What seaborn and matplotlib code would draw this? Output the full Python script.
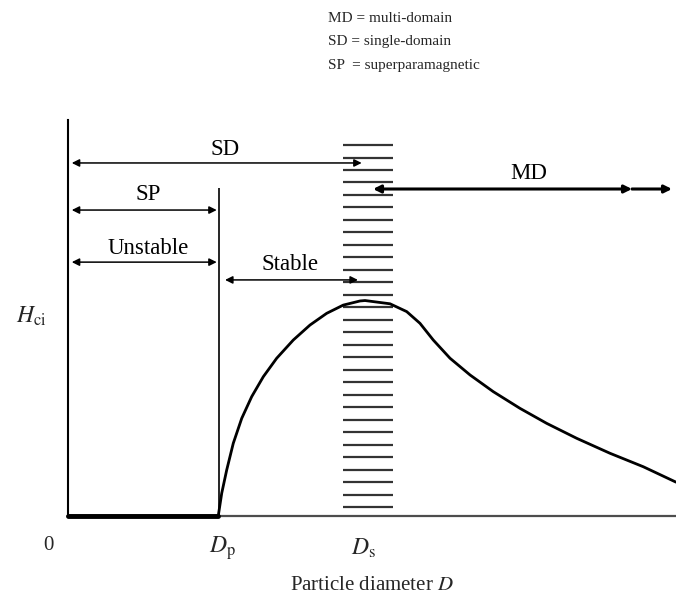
import numpy as np
import pandas as pd
import matplotlib
matplotlib.use("Agg")
import matplotlib.pyplot as plt
import seaborn as sns

# ---- data (schematic units: D in arbitrary units, Hci normalised to peak ~ 1) ----
curve_D = [0.0, 1.99, 2.036, 2.102, 2.189, 2.301, 2.433, 2.587, 2.764, 2.984, 3.205,
           3.426, 3.646, 3.868, 3.934, 4.0, 4.265, 4.486, 4.662, 4.838, 5.060, 5.325,
           5.633, 5.987, 6.340, 6.738, 7.179, 7.620, 8.053]
curve_H = [0.0, 0.0, 0.105, 0.212, 0.335, 0.450, 0.550, 0.642, 0.727, 0.811, 0.880,
           0.934, 0.972, 0.991, 0.993, 0.990, 0.978, 0.942, 0.888, 0.811, 0.727, 0.650,
           0.573, 0.496, 0.427, 0.358, 0.289, 0.227, 0.156]

D_p = 2.0
D_s = 4.0
band_x = [3.64, 4.30]
band_lines = [1.710, 1.652, 1.594, 1.537, 1.480, 1.422, 1.365, 1.307, 1.250, 1.192,
              1.135, 1.077, 1.019, 0.962, 0.905, 0.847, 0.789, 0.732, 0.675, 0.617,
              0.559, 0.502, 0.444, 0.387, 0.329, 0.272, 0.214, 0.157, 0.099, 0.042]

# ranges: label, x_start, x_end, y
ranges_label = ["SD", "SP", "Unstable", "Stable", "MD"]
ranges_start = [0.05, 0.05, 0.05, 2.08, 4.04]
ranges_end = [3.89, 1.97, 1.97, 3.84, 7.47]
ranges_y = [1.627, 1.41, 1.17, 1.088, 1.507]
label_x = [2.08, 1.06, 1.06, 2.94, 6.1]
label_y = [1.687, 1.48, 1.235, 1.157, 1.58]
md_extra_end = 8.0

legend_lines = ["MD = multi-domain", "SD = single-domain", "SP  = superparamagnetic"]

# ---- style ----
sns.set_theme(style="white")
plt.rcParams["font.family"] = ["Liberation Serif", "DejaVu Serif"]
plt.rcParams["mathtext.fontset"] = "stix"

fig = plt.figure(figsize=(6.76, 5.97), dpi=100)
ax = fig.add_axes([68 / 676, (597 - 516) / 597, (676 - 68) / 676, 396 / 597])
ax.set_xlim(0, 8.053)
ax.set_ylim(0, 1.825)

df = pd.DataFrame({"D": curve_D, "H": curve_H})
sns.lineplot(data=df, x="D", y="H", ax=ax, color="black", lw=2.0,
             sort=False, estimator=None, clip_on=False, zorder=5)
# thick flat segment (SP region)
sns.lineplot(data=df.iloc[:2], x="D", y="H", ax=ax, color="black", lw=3.5,
             sort=False, estimator=None, clip_on=False, zorder=6)

# hatched band at D_s
ax.hlines(band_lines, band_x[0], band_x[1], color="0.2", lw=1.6, zorder=2)

# D_p divider
ax.vlines(D_p, 0, 1.51, color="black", lw=1.2, zorder=3)

# range arrows
for lab, xs, xe, y, lx, ly in zip(ranges_label, ranges_start, ranges_end, ranges_y, label_x, label_y):
    lw = 2.2 if lab == "MD" else 1.1
    ax.annotate("", xy=(xe, y), xytext=(xs, y),
                arrowprops=dict(arrowstyle="<|-|>", mutation_scale=11, lw=lw,
                                color="black", shrinkA=0, shrinkB=0), zorder=4)
    ax.text(lx, ly, lab, ha="center", va="center", fontsize=16.5, color="black")
    if lab == "MD":
        ax.annotate("", xy=(md_extra_end, y), xytext=(xe, y),
                    arrowprops=dict(arrowstyle="-|>", mutation_scale=11, lw=lw,
                                    color="black", shrinkA=0, shrinkB=0), zorder=4)

# axes
sns.despine(ax=ax, top=True, right=True)
ax.spines["left"].set_color("black")
ax.spines["left"].set_linewidth(1.5)
ax.spines["bottom"].set_color("0.3")
ax.spines["bottom"].set_linewidth(1.6)
ax.set_xticks([])
ax.set_yticks([])
ax.set_xlabel("")
ax.set_ylabel("")

# axis annotations
ax.text(-0.265, -0.134, "0", ha="center", va="center", fontsize=15)
ax.text(2.04, -0.147, r"$D_{\mathrm{p}}$", ha="center", va="center", fontsize=17)
ax.text(3.91, -0.147, r"$D_{\mathrm{s}}$", ha="center", va="center", fontsize=17)
ax.text(4.03, -0.318, r"Particle diameter $D$", ha="center", va="center", fontsize=15)
ax.text(-0.49, 0.92, r"$H_{\mathrm{ci}}$", ha="center", va="center", fontsize=17)

# header legend
for i, line in enumerate(legend_lines):
    fig.text(328 / 676, 1 - (18 + 24 * i) / 597, line, ha="left", va="center", fontsize=11)

fig.savefig("out.png", dpi=100, facecolor="white")
